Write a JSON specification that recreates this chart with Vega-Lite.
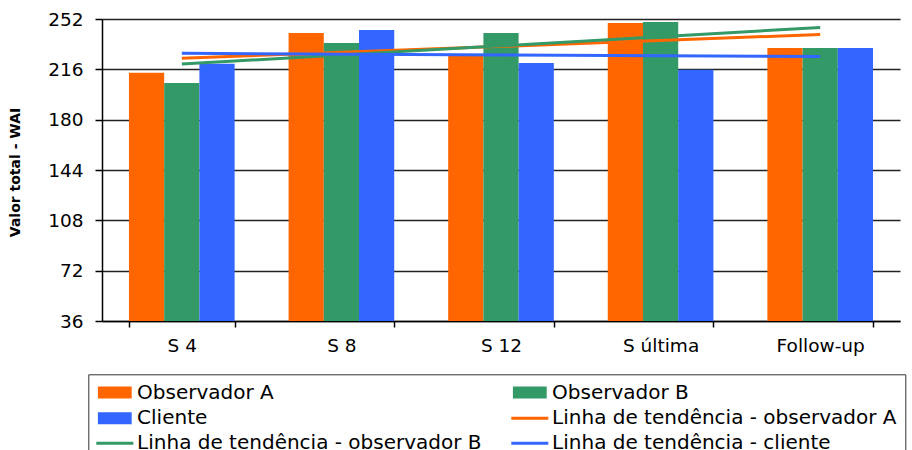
{
  "$schema": "https://vega.github.io/schema/vega-lite/v6.json",
  "autosize": "none",
  "width": 798,
  "height": 302,
  "padding": {"top": 19, "left": 102, "right": 12, "bottom": 129},
  "background": "white",
  "config": {
    "view": {"stroke": null},
    "font": "DejaVu Sans"
  },
  "data": {
    "values": [
      {"session": "S 4", "idx": 1, "series": "Observador A", "trend": "Linha de tendência - observador A", "value": 213.6},
      {"session": "S 4", "idx": 1, "series": "Observador B", "trend": "Linha de tendência - observador B", "value": 206.2},
      {"session": "S 4", "idx": 1, "series": "Cliente", "trend": "Linha de tendência - cliente", "value": 220.0},
      {"session": "S 8", "idx": 2, "series": "Observador A", "trend": "Linha de tendência - observador A", "value": 242.0},
      {"session": "S 8", "idx": 2, "series": "Observador B", "trend": "Linha de tendência - observador B", "value": 234.8},
      {"session": "S 8", "idx": 2, "series": "Cliente", "trend": "Linha de tendência - cliente", "value": 244.1},
      {"session": "S 12", "idx": 3, "series": "Observador A", "trend": "Linha de tendência - observador A", "value": 226.0},
      {"session": "S 12", "idx": 3, "series": "Observador B", "trend": "Linha de tendência - observador B", "value": 242.0},
      {"session": "S 12", "idx": 3, "series": "Cliente", "trend": "Linha de tendência - cliente", "value": 220.5},
      {"session": "S última", "idx": 4, "series": "Observador A", "trend": "Linha de tendência - observador A", "value": 249.1},
      {"session": "S última", "idx": 4, "series": "Observador B", "trend": "Linha de tendência - observador B", "value": 249.9},
      {"session": "S última", "idx": 4, "series": "Cliente", "trend": "Linha de tendência - cliente", "value": 215.7},
      {"session": "Follow-up", "idx": 5, "series": "Observador A", "trend": "Linha de tendência - observador A", "value": 231.3},
      {"session": "Follow-up", "idx": 5, "series": "Observador B", "trend": "Linha de tendência - observador B", "value": 231.3},
      {"session": "Follow-up", "idx": 5, "series": "Cliente", "trend": "Linha de tendência - cliente", "value": 231.3}
    ]
  },
  "resolve": {"scale": {"x": "independent"}},
  "layer": [
    {
      "mark": {"type": "bar", "clip": true},
      "encoding": {
        "x": {
          "field": "session",
          "type": "nominal",
          "sort": ["S 4", "S 8", "S 12", "S última", "Follow-up"],
          "scale": {"paddingInner": 0.338, "paddingOuter": 0.169},
          "axis": {
            "title": null,
            "labelAngle": 0,
            "labelFont": "DejaVu Sans",
            "labelFontSize": 18.5,
            "labelColor": "#000",
            "labelPadding": 9,
            "domainColor": "#000",
            "domainWidth": 1.5,
            "tickColor": "#000",
            "tickSize": 6,
            "tickWidth": 1.5,
            "tickBand": "extent",
            "grid": false
          }
        },
        "xOffset": {
          "field": "series",
          "type": "nominal",
          "sort": ["Observador A", "Observador B", "Cliente"],
          "scale": {"paddingInner": 0, "paddingOuter": 0}
        },
        "y": {
          "field": "value",
          "type": "quantitative",
          "scale": {"domain": [36, 252], "nice": false, "zero": false},
          "axis": {
            "title": "Valor total - WAI",
            "titleFont": "DejaVu Sans",
            "titleFontWeight": "bold",
            "titleFontSize": 14,
            "titleColor": "#000",
            "titleX": -87,
            "titleY": 153,
            "titleBaseline": "middle",
            "titleAngle": -90,
            "values": [36, 72, 108, 144, 180, 216, 252],
            "labelFont": "DejaVu Sans",
            "labelFontSize": 18.5,
            "labelColor": "#000",
            "labelPadding": 12,
            "domainColor": "#000",
            "domainWidth": 1.5,
            "tickColor": "#000",
            "tickSize": 7,
            "tickWidth": 1.5,
            "grid": true,
            "gridColor": "#222",
            "gridWidth": 1.5
          }
        },
        "color": {
          "field": "series",
          "type": "nominal",
          "scale": {
            "domain": [
              "Observador A",
              "Cliente",
              "Linha de tendência - observador B",
              "Observador B",
              "Linha de tendência - observador A",
              "Linha de tendência - cliente"
            ],
            "range": ["#FF6600", "#3366FF", "#339966", "#339966", "#FF6600", "#3366FF"]
          },
          "legend": {
            "title": null,
            "orient": "none",
            "legendX": -13.7,
            "legendY": 355.3,
            "columns": 2,
            "columnPadding": 22,
            "rowPadding": 4,
            "padding": 8,
            "strokeColor": "#333",
            "labelFont": "DejaVu Sans",
            "labelFontSize": 20,
            "labelColor": "#000",
            "labelLimit": 0,
            "labelOffset": 12.3,
            "symbolSize": 169,
            "symbolOffset": 8.5,
            "symbolStrokeWidth": 3,
            "symbolOpacity": 1
          }
        }
      }
    },
    {
      "transform": [
        {"regression": "value", "on": "idx", "groupby": ["series", "trend"], "method": "linear"}
      ],
      "mark": {"type": "line", "strokeWidth": 3, "strokeCap": "butt"},
      "encoding": {
        "x": {
          "field": "idx",
          "type": "quantitative",
          "scale": {"domain": [0.5, 5.5], "nice": false, "zero": false},
          "axis": null
        },
        "y": {"field": "value", "type": "quantitative"},
        "color": {"field": "trend", "type": "nominal"},
        "detail": {"field": "trend"}
      }
    },
    {
      "mark": {"type": "point", "opacity": 0, "filled": true},
      "encoding": {
        "x": {
          "field": "idx",
          "type": "quantitative",
          "scale": {"domain": [0.5, 5.5], "nice": false, "zero": false},
          "axis": null
        },
        "y": {"field": "value", "type": "quantitative"},
        "color": {"field": "series", "type": "nominal"},
        "shape": {
          "field": "series",
          "type": "nominal",
          "scale": {
            "domain": [
              "Observador A",
              "Cliente",
              "Linha de tendência - observador B",
              "Observador B",
              "Linha de tendência - observador A",
              "Linha de tendência - cliente"
            ],
            "range": [
              "M-2.6,-0.692H2.6M-2.6,-0.346H2.6M-2.6,0H2.6M-2.6,0.346H2.6M-2.6,0.692H2.6",
              "M-2.6,-0.692H2.6M-2.6,-0.346H2.6M-2.6,0H2.6M-2.6,0.346H2.6M-2.6,0.692H2.6",
              "M-2.85,0H2.85",
              "M-2.6,-0.692H2.6M-2.6,-0.346H2.6M-2.6,0H2.6M-2.6,0.346H2.6M-2.6,0.692H2.6",
              "M-2.85,0H2.85",
              "M-2.85,0H2.85"
            ]
          }
        }
      }
    }
  ]
}
